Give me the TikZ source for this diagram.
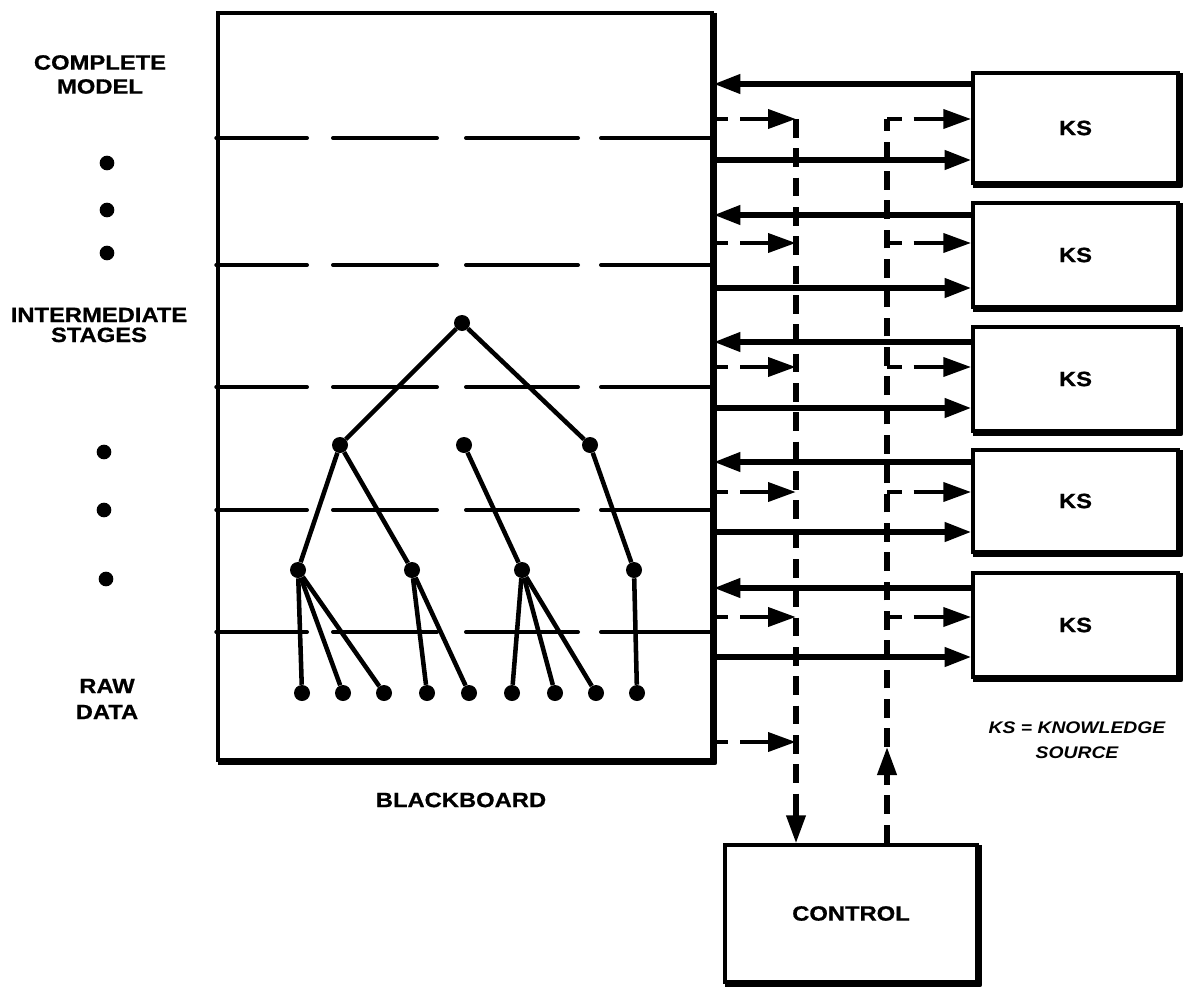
\documentclass[tikz,border=0pt]{standalone}
\usepackage{fontspec}
\newfontfamily\lbl[FakeStretch=1.15,BoldFeatures={FakeBold=0.8}]{Liberation Sans}
\usetikzlibrary{arrows.meta}
\begin{document}
\begin{tikzpicture}[x=0.75pt,y=-0.75pt,
  box/.style={draw, line width=2.6pt, inner sep=0pt,
    font=\lbl\bfseries\fontsize{15.5}{18}\selectfont},
  lab/.style={align=center, inner sep=0pt,
    font=\lbl\bfseries\fontsize{15.5}{18}\selectfont},
  dot/.style={circle, fill, inner sep=0pt, minimum size=12pt},
  sdot/.style={circle, fill, inner sep=0pt, minimum size=11pt},
  edge/.style={line width=3.4pt},
  lvl/.style={line width=3pt, line cap=round},
  sarrow/.style={line width=4pt, -{Triangle[length=20pt,width=14pt]}},
  darrow/.style={line width=3.6pt, dash pattern=on 11pt off 9pt on 40pt off 1pt,
    -{Triangle[length=21pt,width=14pt]}},
  vdash/.style={line width=3.8pt, dash pattern=on 14pt off 8pt},
  vtip/.style={-{Triangle[length=21pt,width=14pt]}},
  shade/.style={line width=3pt, line join=round}
]
\useasboundingbox (0,0) rectangle (1184,988);

% blackboard
\node[box, minimum width=370.5pt, minimum height=560.25pt] (bb) at (465,386.5) {};

% level lines inside the blackboard
\foreach \y in {138,265,387,510,632} {
  \draw[lvl] (bb.west |- 0,\y) -- (307,\y);
  \draw[lvl] (333,\y) -- (437,\y);
  \draw[lvl] (466,\y) -- (578,\y);
  \draw[lvl] (601,\y) -- (bb.east |- 0,\y);
}

% knowledge sources
\node[box, minimum width=153.75pt, minimum height=82.5pt] (ks1) at (1075.5,128) {KS};
\node[box, minimum width=153.75pt, minimum height=78pt] (ks2) at (1075.5,255) {KS};
\node[box, minimum width=153.75pt, minimum height=78pt] (ks3) at (1075.5,379) {KS};
\node[box, minimum width=153.75pt, minimum height=76.5pt] (ks4) at (1075.5,501) {KS};
\node[box, minimum width=153.75pt, minimum height=78pt] (ks5) at (1075.5,625) {KS};

% control
\node[box, minimum width=189pt, minimum height=102.75pt] (ctl) at (851,913.5) {CONTROL};

% heavier right and bottom edges
\foreach \n in {bb,ks1,ks2,ks3,ks4,ks5,ctl} {
  \draw[shade] ([xshift=1.1pt,yshift=-1.5pt]\n.north east) -- ([xshift=1.1pt,yshift=-1.1pt]\n.south east)
    -- ([xshift=1.5pt,yshift=-1.1pt]\n.south west);
}

% tree
\node[dot] (n0) at (462,323) {};
\node[dot] (m1) at (340,445) {};
\node[dot] (m2) at (464,445) {};
\node[dot] (m3) at (590,445) {};
\node[dot] (p1) at (298,570) {};
\node[dot] (p2) at (412,570) {};
\node[dot] (p3) at (522,570) {};
\node[dot] (p4) at (634,570) {};
\foreach \i/\x in {1/302,2/343,3/384,4/427,5/469,6/512,7/555,8/596,9/637}
  \node[dot] (l\i) at (\x,693) {};
\foreach \a/\b in {n0/m1,n0/m3,m1/p1,m1/p2,m2/p3,m3/p4,p1/l1,p1/l2,p1/l3,p2/l4,p2/l5,p3/l6,p3/l7,p3/l8,p4/l9}
  \draw[edge] (\a) -- (\b);

% control lines
\coordinate (cin) at (796,119);
\coordinate (cout) at (887,119);
\coordinate (uptip) at (887,747);
\draw[vdash] (cin) -- (cin |- 0,800);
\draw[vdash, vtip] (cin |- 0,800) -- (cin |- ctl.north);
\draw[vdash, vtip] (ctl.north -| uptip) -- (uptip);
\draw[vdash] (uptip) -- (cout);

% arrows between blackboard, control lines and knowledge sources
\foreach \k/\a/\b/\c in {ks1/84/119/160, ks2/215/243/288, ks3/342/367/408, ks4/462/492/532, ks5/588/617/657} {
  \draw[sarrow] (\k.west |- 0,\a) -- (bb.east |- 0,\a);
  \draw[darrow] (bb.east |- 0,\b) -- (cin |- 0,\b);
  \draw[darrow] (cout |- 0,\b) -- (\k.west |- 0,\b);
  \draw[sarrow] (bb.east |- 0,\c) -- (\k.west |- 0,\c);
}
\draw[darrow] (bb.east |- 0,742) -- (cin |- 0,742);

% labels
\node[lab] (lcm) at (100,74.5) {COMPLETE\\MODEL};
\node[sdot] (d1) at (107,163) {};
\node[sdot] (d2) at (107,210) {};
\node[sdot] (d3) at (107,253) {};
\node[lab] (lis) at (99,325) {INTERMEDIATE\\[-3pt]STAGES};
\node[sdot] (d4) at (104,452) {};
\node[sdot] (d5) at (104,510) {};
\node[sdot] (d6) at (106,579) {};
\node[lab] (lrd) at (107,699) {RAW\\[1.5pt]DATA};
\node[lab] (lbb) at (461,800) {BLACKBOARD};
\node[align=center, inner sep=0pt, font=\lbl\bfseries\itshape\fontsize{12.6}{18.75}\selectfont]
  (lks) at (1077,740) {KS = KNOWLEDGE\\SOURCE};
\end{tikzpicture}
\end{document}
